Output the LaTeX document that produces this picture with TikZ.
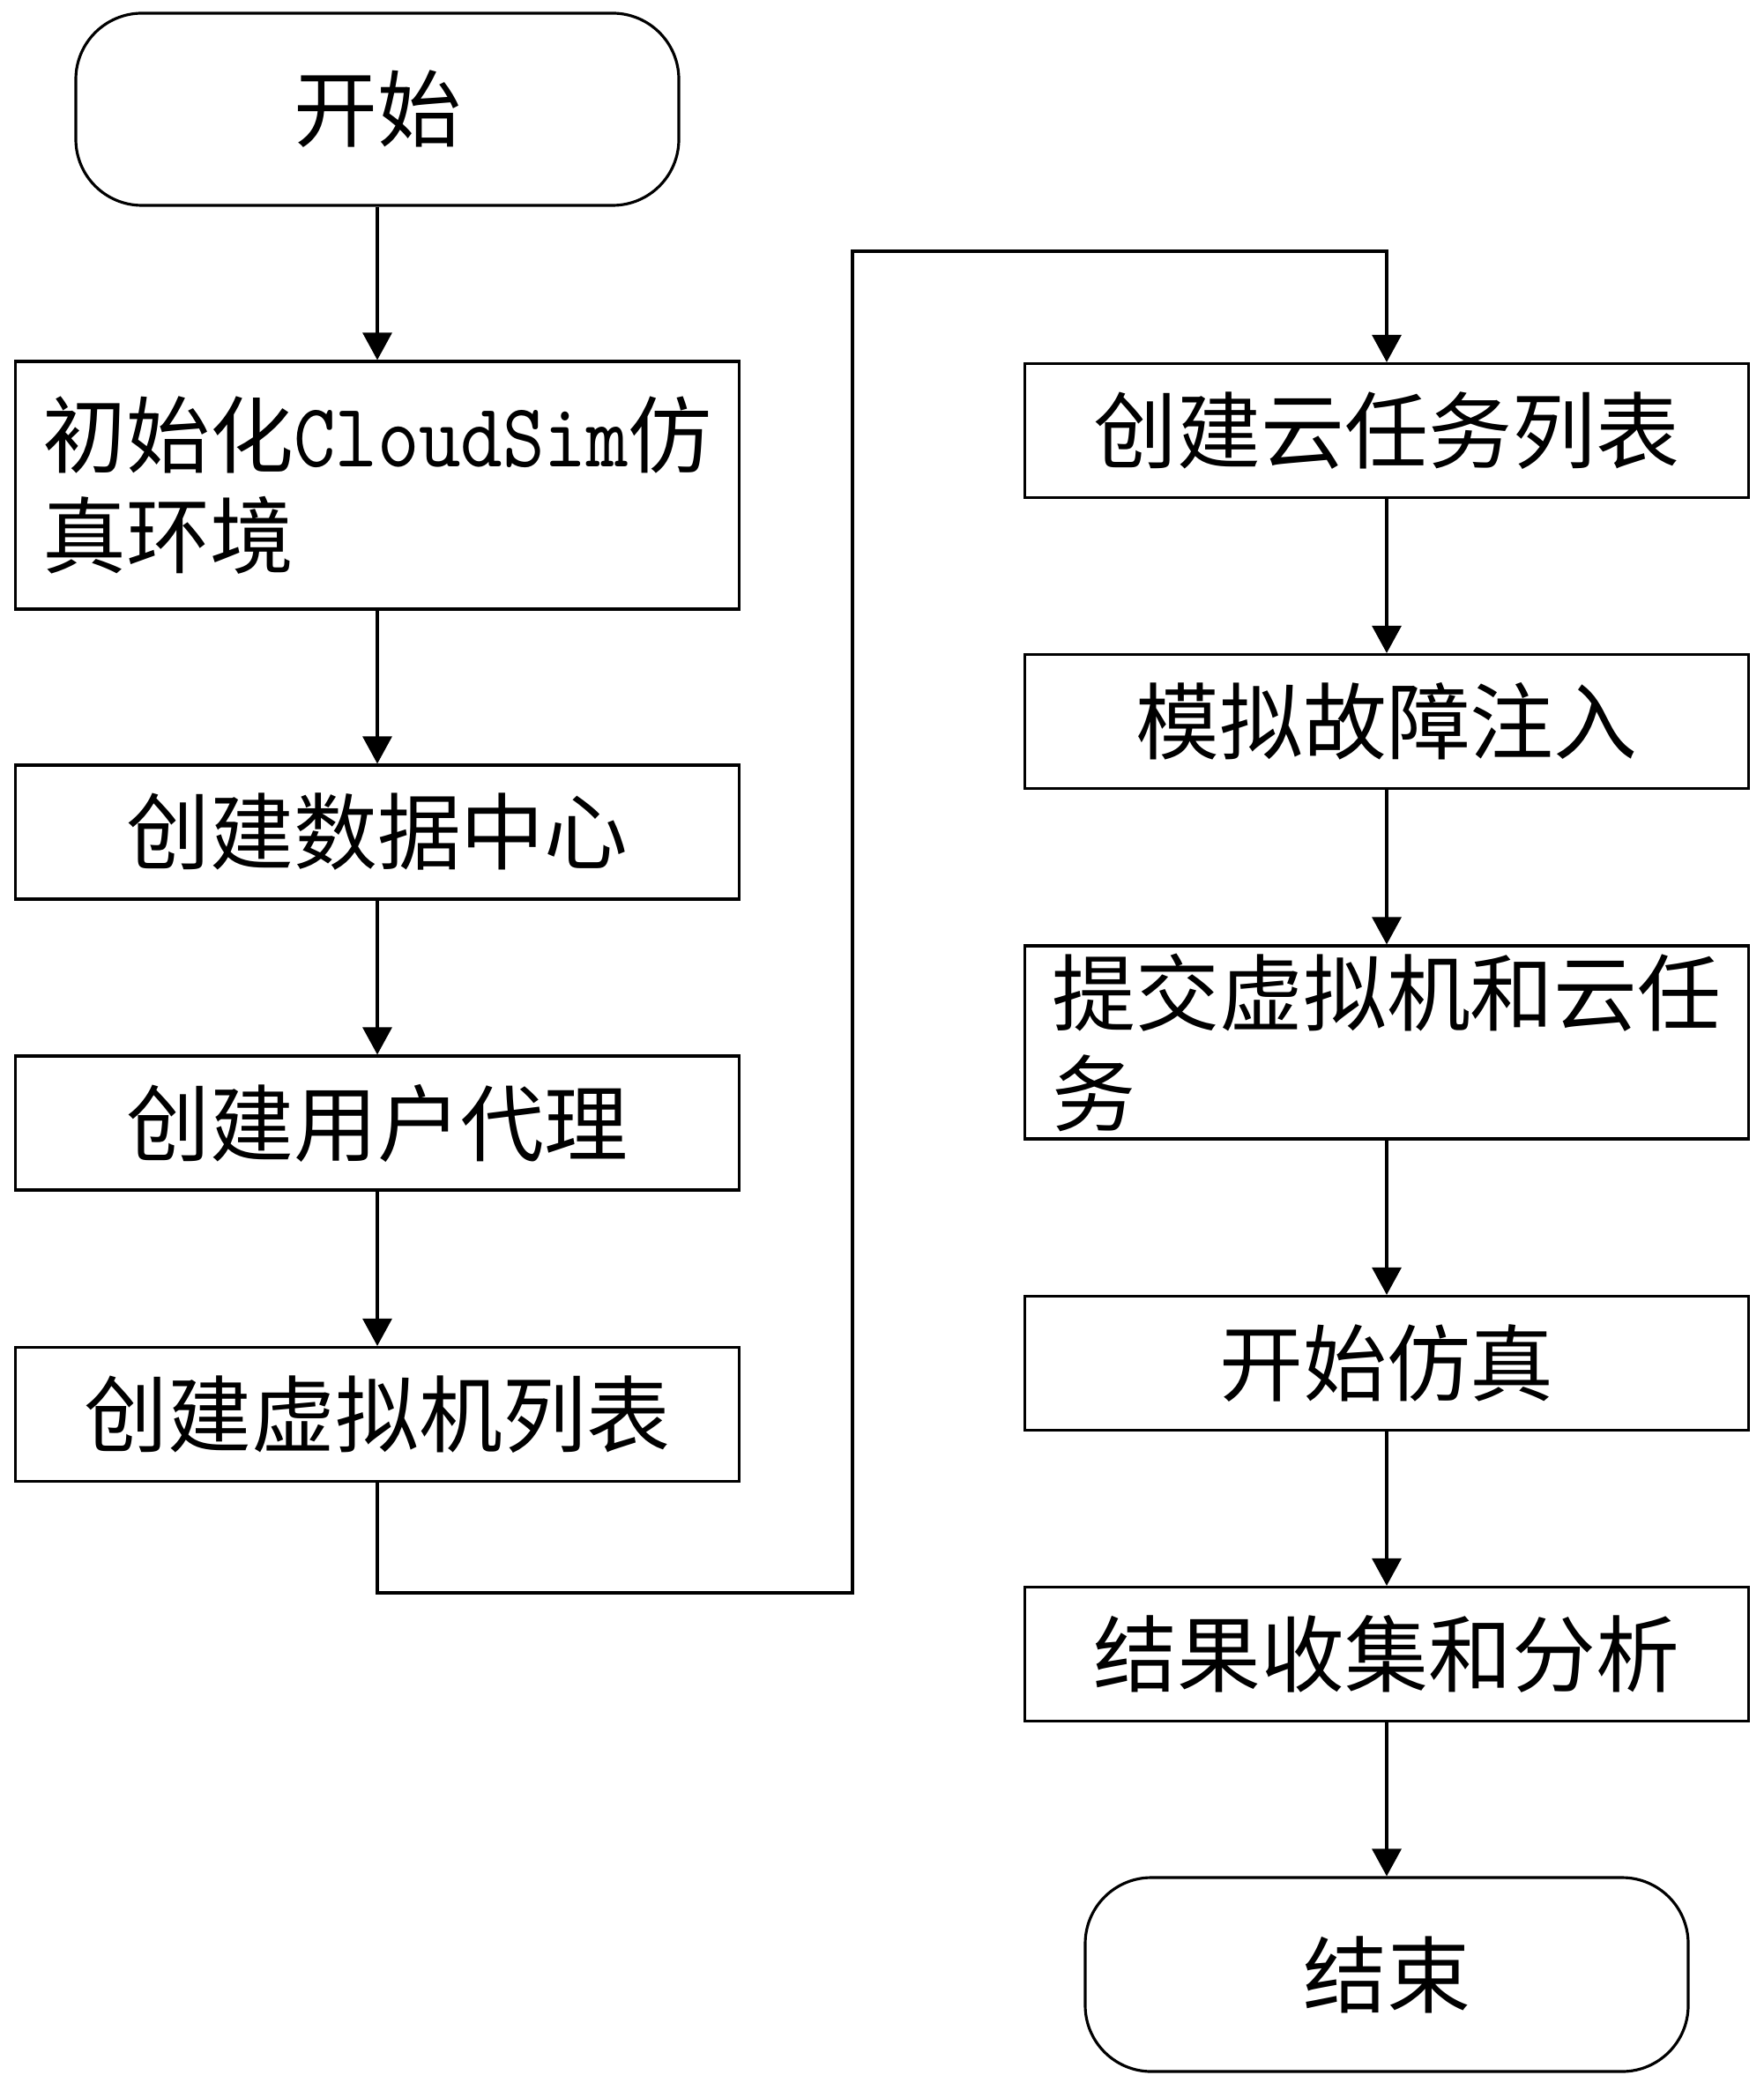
\documentclass[tikz,border=0pt]{standalone}
\usepackage{fontspec}
\usetikzlibrary{arrows.meta}
\setmainfont{Noto Sans CJK SC}
\newfontfamily\monofont{lmmono10-regular}[Extension=.otf,FakeStretch=0.877]
\newcommand\latinmono{\fontsize{29.3}{32.4}\selectfont\monofont}
\begin{document}
\begin{tikzpicture}[
	khung/.style={draw,line width=0.9pt,minimum width=8.21cm,minimum height=1.52cm,inner sep=0pt,align=left,font=\fontsize{27}{32.4}\selectfont},
	vien/.style={khung,rounded corners=0.75cm,minimum width=6.84cm,minimum height=2.18cm},
	muiten/.style={-{Triangle[length=0.31cm,width=0.33cm]},line width=0.9pt}]
	\useasboundingbox (0,0) rectangle (20,-23.71);
	%cot trai
	\node[vien] (kaishi) at (4.28,-1.24) {开始};
	\node[khung,minimum height=2.81cm] (chushi) at (4.28,-5.505) {初始化{\latinmono CloudSim}仿\\真环境};
	\node[khung] (shuju) at (4.28,-9.44) {创建数据中心};
	\node[khung] (yonghu) at (4.28,-12.74) {创建用户代理};
	\node[khung] (xuniji) at (4.28,-16.045) {创建虚拟机列表};
	%cot phai
	\node[khung] (renwu) at (15.73,-4.885) {创建云任务列表};
	\node[khung] (guzhang) at (15.73,-8.185) {模拟故障注入};
	\node[khung,minimum height=2.19cm] (tijiao) at (15.73,-11.825) {提交虚拟机和云任\\务};
	\node[khung] (fangzhen) at (15.73,-15.465) {开始仿真};
	\node[khung] (jieguo) at (15.73,-18.765) {结果收集和分析};
	\node[vien,minimum height=2.2cm] (jieshu) at (15.73,-22.40) {结束};
	\foreach \a/\b in {kaishi/chushi,chushi/shuju,shuju/yonghu,yonghu/xuniji,renwu/guzhang,guzhang/tijiao,tijiao/fangzhen,fangzhen/jieguo,jieguo/jieshu}
	\draw[muiten] (\a.south)--(\b.north);
	\coordinate (gocduoi) at (4.28,-18.07);
	\coordinate (goctren) at (9.67,-2.85);
	\draw[muiten] (xuniji.south)--(gocduoi) -| (goctren) -| (renwu.north);
\end{tikzpicture}
\end{document}
